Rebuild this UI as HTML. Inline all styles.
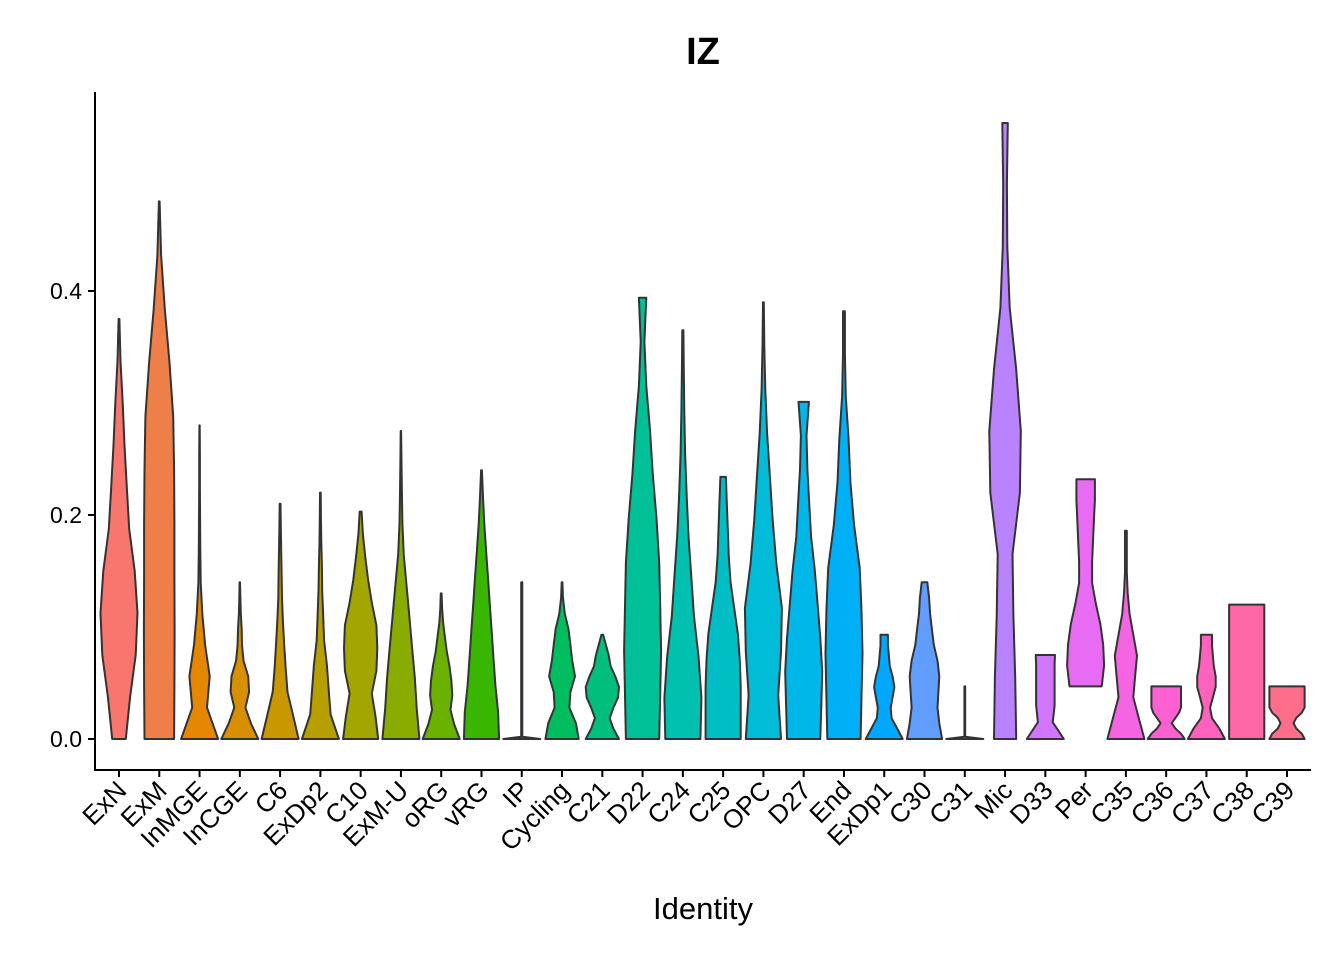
<!DOCTYPE html>
<html><head><meta charset="utf-8"><style>
html,body{margin:0;padding:0;background:#fff;}
svg text{font-family:"Liberation Sans",sans-serif;}
</style></head><body>
<svg id="chart" width="1344" height="960" xmlns="http://www.w3.org/2000/svg">
<text x="703" y="64" font-size="38" font-weight="bold" text-anchor="middle">IZ</text>
<text x="703" y="919" font-size="31" text-anchor="middle">Identity</text>
<g id="marks"></g>
</svg>
<script>
const categories=["ExN","ExM","InMGE","InCGE","C6","ExDp2","C10","ExM-U","oRG","vRG","IP","Cycling","C21","D22","C24","C25","OPC","D27","End","ExDp1","C30","C31","Mic","D33","Per","C35","C36","C37","C38","C39"];
const maxVals=[0.375,0.48,0.28,0.14,0.21,0.22,0.203,0.275,0.13,0.24,0.14,0.14,0.093,0.394,0.365,0.234,0.39,0.301,0.382,0.093,0.14,0.047,0.55,0.075,0.232,0.186,0.047,0.093,0.12,0.047];
const minVals=[0,0,0,0,0,0,0,0,0,0,0,0,0,0,0,0,0,0,0,0,0,0,0,0,0.047,0,0,0,0,0];
const profiles=[
[0.37,0.6,0.9,1.0,0.85,0.55,0.42,0.3,0.2,0.08,0.02],
[0.8,0.82,0.83,0.82,0.82,0.8,0.75,0.55,0.3,0.1,0.02],
[1.0,0.4,0.55,0.3,0.15,0.06,0.04,0.03,0.02,0.02,0.01],
[1.0,0.6,0.3,0.5,0.45,0.2,0.12,0.1,0.05,0.03,0.01],
[1.0,0.7,0.4,0.3,0.22,0.15,0.1,0.08,0.06,0.04,0.02],
[1.0,0.55,0.45,0.35,0.2,0.15,0.1,0.08,0.05,0.03,0.02],
[0.95,0.8,0.6,0.85,0.9,0.85,0.6,0.4,0.25,0.12,0.05],
[1.0,0.85,0.75,0.6,0.45,0.3,0.15,0.08,0.05,0.03,0.01],
[1.0,0.7,0.5,0.6,0.55,0.45,0.3,0.2,0.1,0.05,0.02],
[0.95,0.9,0.75,0.65,0.55,0.45,0.35,0.25,0.15,0.08,0.02],
[1.0,0.03,0.03,0.03,0.03,0.03,0.03,0.03,0.03,0.03,0.03],
[0.9,0.75,0.4,0.45,0.7,0.55,0.45,0.35,0.15,0.05,0.02],
[0.9,0.6,0.4,0.6,0.85,0.9,0.7,0.45,0.35,0.2,0.05],
[0.9,0.95,1.0,0.95,0.9,0.75,0.55,0.4,0.2,0.1,0.2],
[0.95,1.0,0.85,0.6,0.45,0.3,0.2,0.12,0.08,0.05,0.03],
[0.95,0.95,0.95,0.9,0.8,0.6,0.4,0.3,0.25,0.2,0.15],
[0.95,0.8,0.95,1.0,0.7,0.5,0.35,0.2,0.1,0.05,0.02],
[0.9,0.95,1.0,0.9,0.75,0.6,0.4,0.3,0.2,0.15,0.28],
[0.9,0.95,1.0,0.95,0.85,0.55,0.35,0.25,0.1,0.05,0.05],
[1.0,0.7,0.4,0.35,0.45,0.55,0.45,0.3,0.25,0.2,0.2],
[0.95,0.8,0.7,0.75,0.8,0.7,0.5,0.4,0.3,0.25,0.15],
[1.0,0.02,0.02,0.02,0.02,0.02,0.02,0.02,0.02,0.02,0.02],
[0.6,0.55,0.45,0.4,0.8,0.85,0.6,0.25,0.12,0.1,0.15],
[1.0,0.7,0.4,0.45,0.5,0.5,0.5,0.5,0.5,0.5,0.52],
[0.87,1.0,0.95,0.8,0.55,0.35,0.35,0.4,0.45,0.5,0.5],
[1.0,0.7,0.4,0.5,0.6,0.4,0.2,0.1,0.05,0.05,0.05],
[1.0,0.8,0.5,0.3,0.5,0.7,0.8,0.8,0.8,0.8,0.8],
[1.0,0.7,0.3,0.2,0.35,0.5,0.5,0.4,0.35,0.3,0.3],
[0.95,0.95,0.95,0.95,0.95,0.95,0.95,0.95,0.95,0.95,0.95],
[0.95,0.8,0.5,0.35,0.5,0.8,0.95,0.95,0.95,0.95,0.95]
];
const yTicks=[0.0,0.2,0.4];
const yTickLabels=["0.0","0.2","0.4"];

const NS="http://www.w3.org/2000/svg";
const g=document.getElementById('marks');
const x0=119,dx=(1287-119)/29,hwMax=18.5;
function xs(i){return x0+i*dx;}
function ys(v){return 739-v*1120;}
function hcl(h){
  const L=65,C=100,hr=h*Math.PI/180,u=C*Math.cos(hr),v=C*Math.sin(hr);
  const Xn=95.047,Yn=100,Zn=108.883,d=Xn+15*Yn+3*Zn,un=4*Xn/d,vn=9*Yn/d;
  const Y=Yn*Math.pow((L+16)/116,3);const up=u/(13*L)+un,vp=v/(13*L)+vn;
  const X=Y*9*up/(4*vp),Z=Y*(12-3*up-20*vp)/(4*vp);
  const x=X/100,y=Y/100,z=Z/100;
  let r=3.2406*x-1.5372*y-0.4986*z,gg=-0.9689*x+1.8758*y+0.0415*z,b=0.0557*x-0.2040*y+1.0570*z;
  const f=c=>{c=c<=0.0031308?12.92*c:1.055*Math.pow(c,1/2.4)-0.055;return Math.round(Math.max(0,Math.min(1,c))*255);};
  return `rgb(${f(r)},${f(gg)},${f(b)})`;
}
function mk(tag,attrs){const e=document.createElementNS(NS,tag);for(const k in attrs)e.setAttribute(k,attrs[k]);g.appendChild(e);return e;}

categories.forEach((c,i)=>{
  const cx=xs(i),p=profiles[i],mn=minVals[i],mx=maxVals[i],n=p.length;
  let right=[],left=[];
  for(let k=0;k<n;k++){
    const v=mn+(mx-mn)*k/(n-1);
    if(k===1 && p[0]>0.5 && p[1]<0.1){
      const v2=mn+0.002;const w2=p[1]*hwMax;
      right.push([cx+w2,ys(v2)]);left.push([cx-w2,ys(v2)]);
    }
    const w=p[k]*hwMax;right.push([cx+w,ys(v)]);left.push([cx-w,ys(v)]);
  }
  const pts=right.concat(left.reverse());
  const d="M"+pts.map(q=>q[0].toFixed(1)+","+q[1].toFixed(1)).join("L")+"Z";
  const path=mk('path',{d:d,fill:hcl(15+360*i/30),stroke:'#333',"stroke-width":2,"stroke-linejoin":"round"});
  
  
  const t=mk('line',{x1:cx,y1:770,x2:cx,y2:777,stroke:'#000',"stroke-width":2});
  
  
  const lb=mk('text',{x:cx+9,y:792,"font-size":26,"text-anchor":"end",transform:`rotate(-45 ${cx+9} 792)`});
  lb.textContent=c;
  
  
});
yTicks.forEach((v,i)=>{
  const t=mk('line',{x1:88,y1:ys(v),x2:95,y2:ys(v),stroke:'#000',"stroke-width":2});
  
  
  const lb=mk('text',{x:82,y:ys(v)+8,"font-size":23,"text-anchor":"end"});
  lb.textContent=yTickLabels[i];
  
  
});
const ya=mk('line',{x1:95,y1:92,x2:95,y2:771,stroke:'#000',"stroke-width":2});


const xa=mk('line',{x1:94,y1:770,x2:1311,y2:770,stroke:'#000',"stroke-width":2});


</script>
</body></html>
